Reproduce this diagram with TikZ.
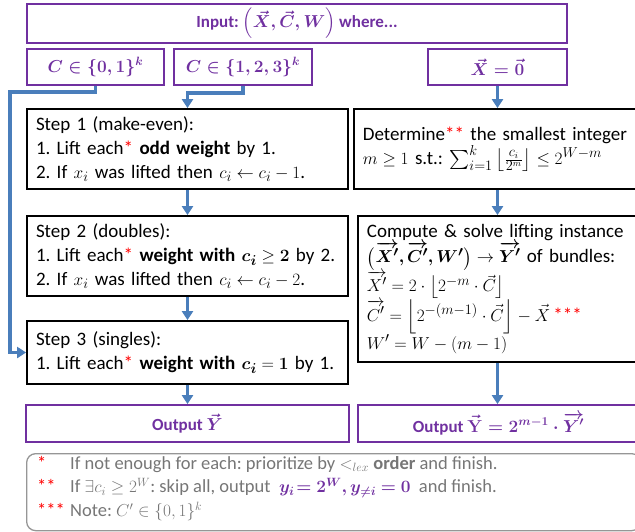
\documentclass[tikz,border=0pt]{standalone}
\usepackage{amsmath,amssymb,bm}
\usepackage{fontspec}
\setmainfont{Carlito}
\usetikzlibrary{arrows.meta}
\definecolor{ppl}{RGB}{112,48,160}
\definecolor{blu}{RGB}{74,126,187}
\definecolor{gry}{RGB}{118,118,118}
\definecolor{gbd}{RGB}{150,150,150}
\newcommand{\st}[1]{{\color{red}#1}}
\frenchspacing
\tikzset{
  pbox/.style={draw=ppl, line width=1.8pt, text=ppl, font=\fontsize{17}{21}\selectfont\bfseries\boldmath, inner sep=0pt},
  kbox/.style={draw=black, line width=1.8pt, font=\fontsize{19}{24}\selectfont, align=left, inner xsep=9pt, inner ysep=0pt},
  arr/.style={draw=blu, line width=3.5pt, -{Triangle[width=11pt,length=9pt]}},
}
\begin{document}
\begin{tikzpicture}[x=1pt,y=-1pt]
\useasboundingbox (0,0) rectangle (635,531);
% top boxes
\node[pbox, minimum width=540pt, minimum height=39pt] (inp) at (297,23.5) {Input: $\left(\vec{X},\vec{C},W\right)$ where...};
\node[pbox, minimum width=137pt, minimum height=36pt] (c01) at (95.5,67) {$C\in\{0,1\}^k$};
\node[pbox, minimum width=138pt, minimum height=36pt] (c123) at (243,67) {$C\in\{1,2,3\}^k$};
\node[pbox, minimum width=139pt, minimum height=36pt] (x0) at (497.5,67) {$\vec{X}=\vec{0}$};
% left column
\node[kbox, text width=303pt, minimum height=80pt] (s1) at (187.5,149) {Step 1 (make-even):\\1. Lift each\st{*} \textbf{odd weight} by 1.\\2. If $x_i$ was lifted then $c_i\leftarrow c_i-1$.};
\node[kbox, text width=303pt, minimum height=80pt] (s2) at (187.5,256) {Step 2 (doubles):\\1. Lift each\st{*} \textbf{weight with} $\bm{c_i}\geq \bm{2}$ by 2.\\2. If $x_i$ was lifted then $c_i\leftarrow c_i-2$.};
\node[kbox, text width=303pt, minimum height=63pt] (s3) at (187.5,352.5) {Step 3 (singles):\\1. Lift each\st{*} \textbf{weight with} $\bm{c_i}=\bm{1}$ by 1.};
\node[pbox, minimum width=323pt, minimum height=37pt] (oy) at (187.5,423.5) {Output $\vec{Y}$};
% right column
\node[kbox, text width=268pt, minimum height=80pt, anchor=west] (det) at (353,149) {Determine\st{**} the smallest integer\\$m\geq 1$ s.t.: $\sum_{i=1}^{k}\left\lfloor\frac{c_i}{2^m}\right\rfloor\leq 2^{W-m}$};
\node[kbox, text width=265pt, minimum height=146pt, anchor=west] (cmp) at (357,289) {Compute \& solve lifting instance\\$\bm{\bigl(\overrightarrow{X'},\overrightarrow{C'},W'\bigr)}\to\bm{\overrightarrow{Y'}}$ of bundles:\\$\overrightarrow{X'}=2\cdot\left\lfloor 2^{-m}\cdot\vec{C}\right\rfloor$\\$\overrightarrow{C'}=\left\lfloor 2^{-(m-1)}\cdot\vec{C}\right\rfloor-\vec{X}$\,\st{***}\\$W'=W-(m-1)$};
\node[pbox, minimum width=283pt, minimum height=37pt, anchor=west] (oy2) at (357,423.5) {Output $\vec{\mathbf{Y}}=2^{m-1}\cdot\overrightarrow{Y'}$\hspace*{2pt}};
% note
\node[draw=gbd, line width=1.3pt, rounded corners=9pt, minimum width=614pt, minimum height=77pt, anchor=north west, inner sep=0pt] (note) at (26,453) {\phantom{.}};
\node[anchor=north west, text=gry, font=\fontsize{18.5}{23.5}\selectfont, align=left, inner sep=0pt] (ntxt) at (37,456) {%
\makebox[33pt][l]{\st{*}}If not enough for each: prioritize by $<_{lex}$ \textbf{order} and finish.\\
\makebox[33pt][l]{\st{**}}If $\exists c_i\geq 2^W$: skip all, output \ {\color{ppl}$\bm{y_i\!=2^W, y_{\neq i}=0}$} \ and finish.\\
\makebox[33pt][l]{\st{***}}Note: $C'\in\{0,1\}^k$};
% connectors
\coordinate (lb) at (10,92);
\draw[arr] (c01.south) |- (lb) |- (s3.west);
\draw[arr] (c123.south) -- ++(0,7) -| (s1.north);
\draw[arr] (x0.south) -- (det.north -| x0.south);
\draw[arr] (s1) -- (s2);
\draw[arr] (s2) -- (s3);
\draw[arr] (s3) -- (oy);
\draw[arr] (det.south -| x0.south) -- (cmp.north -| x0.south);
\draw[arr] (cmp.south -| x0.south) -- (oy2.north -| x0.south);
\end{tikzpicture}
\end{document}
